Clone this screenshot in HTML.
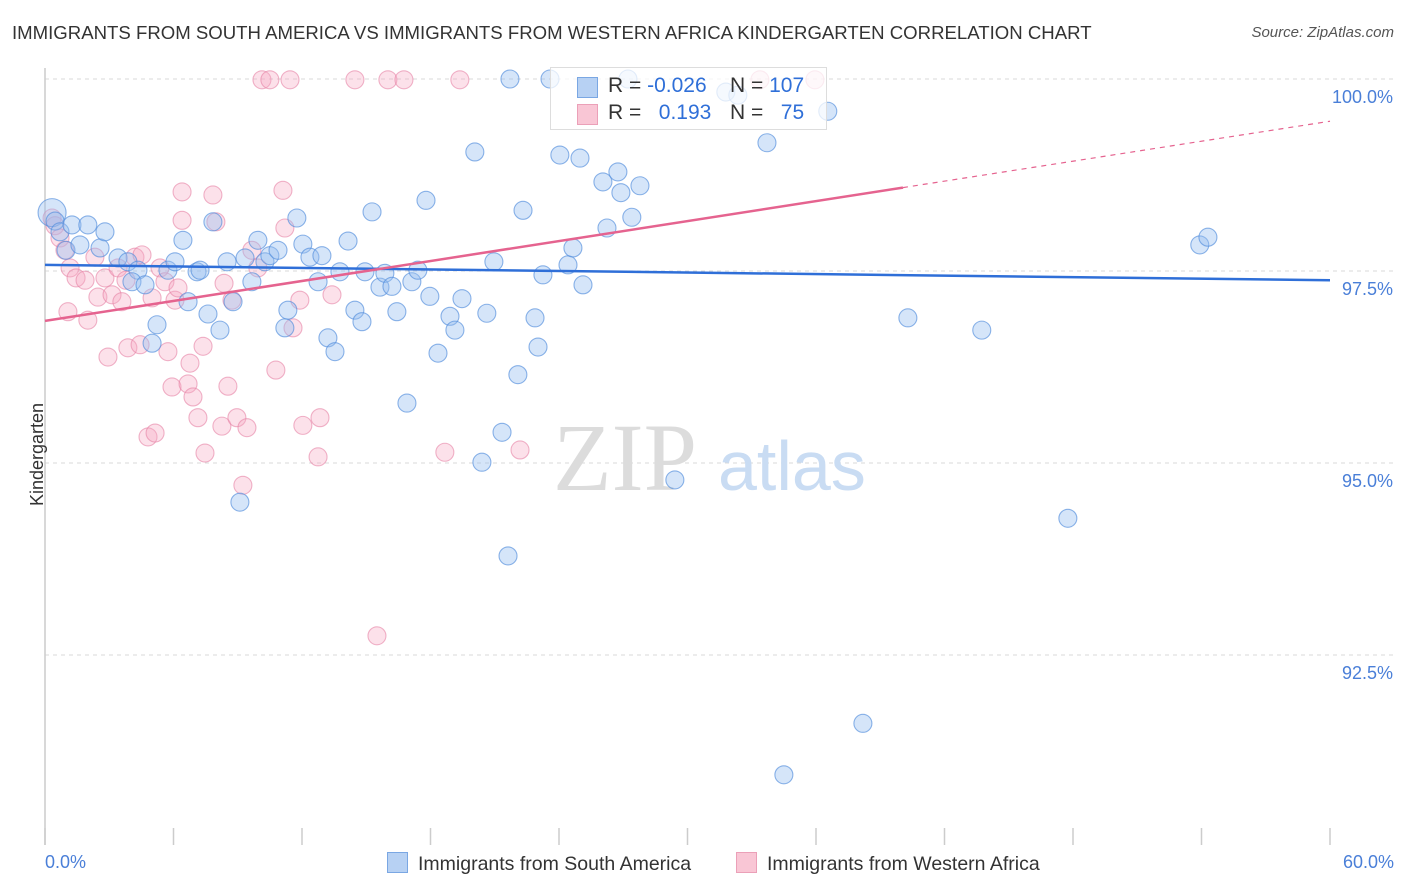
<!DOCTYPE html>
<html><head><meta charset="utf-8"><style>
body{margin:0;background:#fff;font-family:"Liberation Sans",sans-serif;}
#wrap{position:relative;width:1406px;height:892px;overflow:hidden;}
.t{position:absolute;white-space:nowrap;}
</style></head><body>
<div id="wrap">
<div class="t" style="left:12px;top:22px;font-size:18.6px;color:#333;">IMMIGRANTS FROM SOUTH AMERICA VS IMMIGRANTS FROM WESTERN AFRICA KINDERGARTEN CORRELATION CHART</div>
<div class="t" style="right:12px;top:24px;font-size:15px;color:#555;font-style:italic;">Source: ZipAtlas.com</div>
<svg id="plot" width="1406" height="892" style="position:absolute;left:0;top:0;"></svg>
</div>
<script>
const blueX=[.33,.47,.70,.98,1.26,2.0,1.63,2.57,2.80,3.41,3.87,4.34,4.06,4.67,5.23,5.0,5.74,6.07,6.44,6.68,7.10,7.24,7.61,7.84,8.17,8.50,8.78,9.10,9.34,9.66,9.94,10.27,10.50,10.88,11.20,11.34,11.76,12.04,12.37,12.93,12.75,13.21,13.54,13.77,14.15,14.47,14.80,14.94,15.27,15.64,15.87,16.20,16.43,16.90,17.13,17.41,17.79,17.97,18.35,18.91,19.14,19.47,20.07,20.40,20.63,20.96,21.34,21.62,21.71,22.08,22.32,22.88,23.02,23.25,23.58,24.04,24.42,24.65,24.98,25.12,26.05,26.24,26.75,26.89,27.22,27.40,27.78,29.41,31.79,32.35,33.71,34.50,36.55,38.19,40.29,43.74,47.76,53.92,54.30];
const blueY=[98.26,98.15,98.01,97.77,98.10,98.10,97.84,97.80,98.01,97.67,97.62,97.51,97.36,97.32,96.80,96.56,97.51,97.62,97.90,97.10,97.49,97.51,96.94,98.14,96.73,97.62,97.10,94.49,97.67,97.36,97.90,97.62,97.70,97.77,96.76,96.99,98.19,97.85,97.68,97.70,97.36,96.63,96.45,97.49,97.89,96.99,96.84,97.49,98.27,97.29,97.47,97.30,96.97,95.78,97.36,97.51,98.42,97.17,96.43,96.91,96.73,97.14,99.05,95.01,96.95,97.62,95.40,93.79,100.0,96.15,98.29,96.89,96.51,97.45,100.0,99.01,97.58,97.80,98.97,97.32,98.66,98.06,98.79,98.52,100.0,98.20,98.61,94.78,99.83,99.79,99.17,90.94,99.58,91.61,96.89,96.73,94.28,97.84,97.94];
const pinkX=[.33,.47,.70,.93,1.17,1.45,1.07,2.0,1.87,2.33,2.47,2.80,2.94,3.13,3.41,3.59,3.78,3.87,4.20,4.53,4.44,4.81,5.0,5.14,5.37,5.60,5.74,5.93,6.07,6.21,6.40,6.40,6.68,6.77,6.91,7.14,7.38,7.47,7.84,7.98,8.26,8.36,8.54,8.73,8.96,9.24,9.43,9.66,9.94,10.13,10.50,10.78,11.11,11.20,11.44,11.58,11.90,12.04,12.75,12.84,13.40,14.47,15.50,16.01,16.76,18.67,19.37,22.18,33.38,35.95];
const pinkY=[98.19,98.09,97.93,97.77,97.54,97.41,96.97,96.86,97.38,97.68,97.16,97.41,96.38,97.19,97.54,97.10,97.38,96.50,97.68,97.71,96.54,95.34,97.15,95.39,97.54,97.36,96.45,95.99,97.12,97.28,98.53,98.16,96.03,96.30,95.86,95.59,96.52,95.13,98.49,98.14,95.48,97.34,96.00,97.12,95.59,94.71,95.46,97.77,97.54,99.99,99.99,96.21,98.55,98.06,99.99,96.76,97.12,95.49,95.08,95.59,97.19,99.99,92.75,99.99,99.99,95.14,99.99,95.17,99.99,99.99];
const blueTrend=[97.58,97.38];
const pinkTrend=[96.85,99.45];
const pinkSolidEnd=40.06;
const yTicks=[100,97.5,95,92.5];
const yTickLabels=["100.0%","97.5%","95.0%","92.5%"];
const xTicks=[0,6,12,18,24,30,36,42,48,54,60];

const NS="http://www.w3.org/2000/svg";
const svg=document.getElementById('plot');
const X0=45,X1=1330;
const xs=v=>X0+(v/60)*(X1-X0);
const ys=v=>79+(100-v)*76.8;
function mk(tag,attrs,parent){const e=document.createElementNS(NS,tag);for(const k in attrs)e.setAttribute(k,attrs[k]);(parent||svg).appendChild(e);return e;}

yTicks.forEach((t,i)=>{
  const g=mk('line',{x1:X0,x2:1395,y1:ys(t),y2:ys(t),stroke:'#d8d8d8','stroke-dasharray':'4,4','stroke-width':1});
  
  
  const tx=mk('text',{x:1393,y:ys(t)+24,'text-anchor':'end','font-size':18,fill:'#4a7fd8','font-family':'Liberation Sans, sans-serif'});
  tx.textContent=yTickLabels[i];
  
  
});
const ya=mk('line',{x1:X0,x2:X0,y1:68,y2:845,stroke:'#ccc','stroke-width':1.5});


xTicks.forEach(t=>{
  const l=mk('line',{x1:xs(t),x2:xs(t),y1:828,y2:845,stroke:'#ccc','stroke-width':1.5});
  
  
});
const wm=mk('text',{x:553,y:490,'font-size':96,fill:'#dcdcdc','font-family':'Liberation Serif, serif'});
wm.textContent='ZIP';


const wm2=mk('text',{x:718,y:490,'font-size':70,fill:'#c9dcf3','font-family':'Liberation Sans, sans-serif'});
wm2.textContent='atlas';



function dots(xa,ya,fill,stroke,name){
  xa.forEach((x,i)=>{
    const r=(i===0&&name==='blue-point')?14:9;
    const c=mk('circle',{cx:xs(x),cy:ys(ya[i]),r:r,fill:fill,stroke:stroke,'stroke-width':1.1});
    
    
  });
}
dots(pinkX,pinkY,'rgba(246,170,195,0.35)','rgba(230,130,165,0.6)','pink-point');
dots(blueX,blueY,'rgba(150,190,240,0.4)','rgba(80,140,220,0.65)','blue-point');

const bl=mk('line',{x1:xs(0),y1:ys(blueTrend[0]),x2:xs(60),y2:ys(blueTrend[1]),stroke:'#2f6fd8','stroke-width':2.5});


const pAt=x=>pinkTrend[0]+(pinkTrend[1]-pinkTrend[0])*x/60;
const pl=mk('line',{x1:xs(0),y1:ys(pAt(0)),x2:xs(pinkSolidEnd),y2:ys(pAt(pinkSolidEnd)),stroke:'#e5638f','stroke-width':2.5});


const pd=mk('line',{x1:xs(pinkSolidEnd),y1:ys(pAt(pinkSolidEnd)),x2:xs(60),y2:ys(pAt(60)),stroke:'#e5638f','stroke-width':1.2,'stroke-dasharray':'5,5'});


</script>
<div class="t" style="left:-14px;top:444px;font-size:18px;color:#333;transform:rotate(-90deg);">Kindergarten</div>
<div class="t" style="left:45px;top:852px;font-size:18px;color:#4a7fd8;">0.0%</div>
<div class="t" style="right:12px;top:852px;font-size:18px;color:#4a7fd8;">60.0%</div>
<div style="position:absolute;left:550px;top:67px;width:275px;height:61px;border:1px solid #ddd;background:rgba(255,255,255,0.75);font-size:21px;color:#333;">
  <div style="position:absolute;left:26px;top:9px;width:19px;height:19px;background:#b7d1f3;border:1px solid #7aa7e3;"></div>
  <div class="t" style="left:57px;top:6px;">R = <span style="color:#2f6fd8">-0.026</span></div>
  <div class="t" style="left:179px;top:6px;">N = <span style="color:#2f6fd8">107</span></div>
  <div style="position:absolute;left:26px;top:36px;width:19px;height:19px;background:#f9c6d5;border:1px solid #eba0b8;"></div>
  <div class="t" style="left:57px;top:33px;">R = &nbsp;&nbsp;<span style="color:#2f6fd8">0.193</span></div>
  <div class="t" style="left:179px;top:33px;">N = &nbsp;&nbsp;<span style="color:#2f6fd8">75</span></div>
</div>
<div style="position:absolute;left:387px;top:852px;font-size:19.5px;color:#333;">
  <div style="position:absolute;left:0;top:0;white-space:nowrap;"><span style="display:inline-block;width:19px;height:19px;background:#b7d1f3;border:1px solid #7aa7e3;vertical-align:-3px;margin-right:10px;"></span>Immigrants from South America</div>
  <div style="position:absolute;left:349px;top:0;white-space:nowrap;"><span style="display:inline-block;width:19px;height:19px;background:#f9c6d5;border:1px solid #eba0b8;vertical-align:-3px;margin-right:10px;"></span>Immigrants from Western Africa</div>
</div>
</body></html>
